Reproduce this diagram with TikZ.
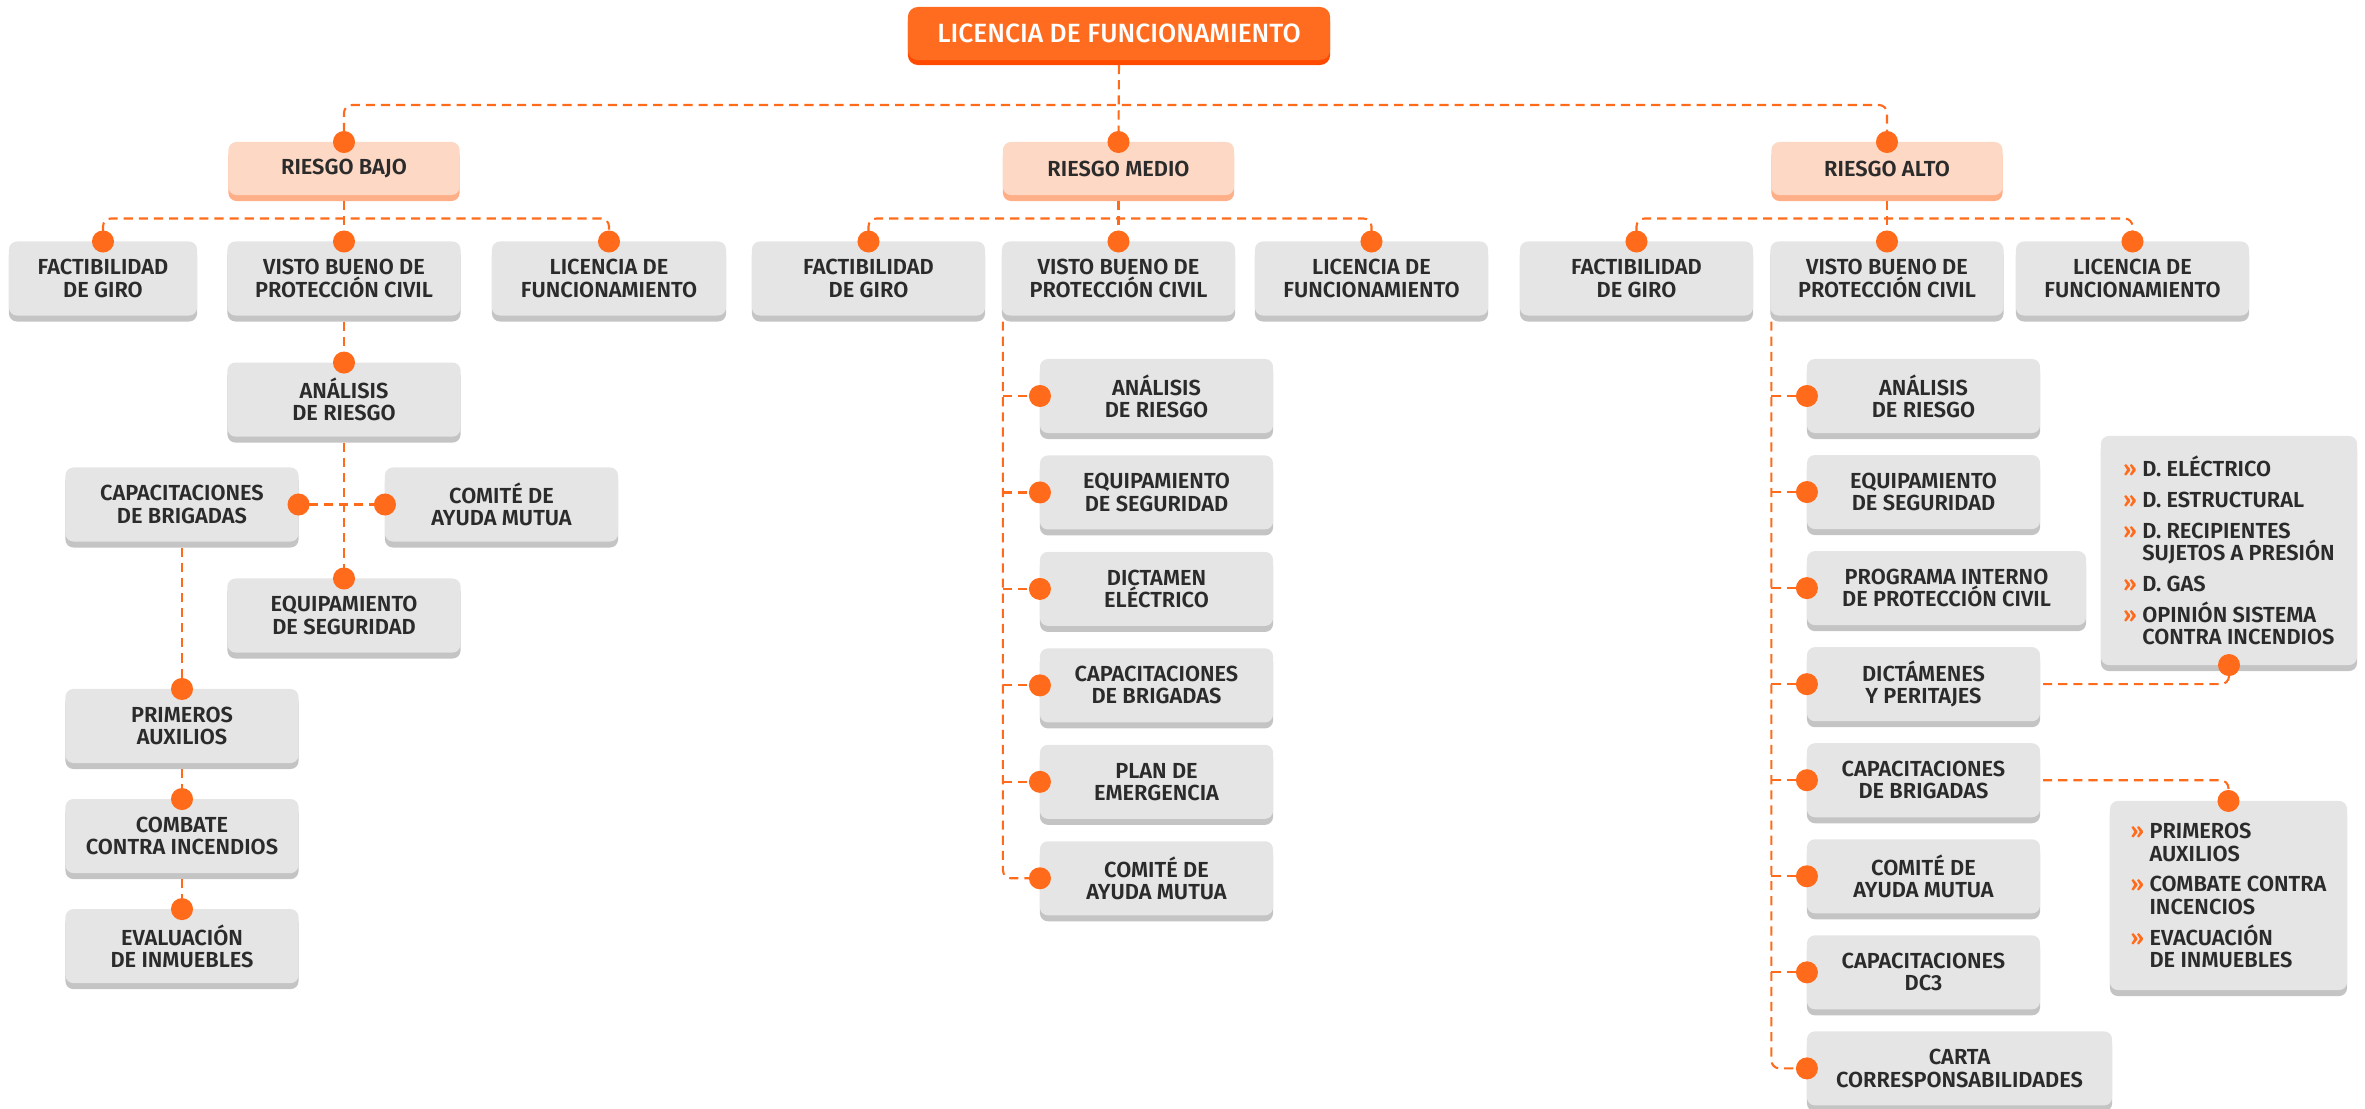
\documentclass[tikz,border=0pt]{standalone}
\usepackage{fontspec}
\setmainfont{Fira Sans}
\newfontfamily\cardfont{Fira Sans SemiBold}
\newfontfamily\headfont{Fira Sans Medium}
\usetikzlibrary{arrows.meta,positioning,shadows}

\definecolor{headorange}{HTML}{FF6C1F}
\definecolor{headshade}{HTML}{FF4A00}
\definecolor{peach}{HTML}{FDD8C4}
\definecolor{peachshade}{HTML}{FFAF87}
\definecolor{boxgray}{HTML}{E5E5E5}
\definecolor{boxshade}{HTML}{C4C4C4}
\definecolor{ink}{HTML}{2B2B2B}
\definecolor{dotorange}{HTML}{FF6B1A}

\newcommand{\bul}{\makebox[0.19cm][l]{\textcolor{dotorange}{»}}}
\newcommand{\cont}{\hspace*{0.19cm}}

\begin{document}
\begin{tikzpicture}[x=0.01cm,y=-0.01cm,>=Latex,
  font=\cardfont\fontsize{6.2pt}{6.3pt}\selectfont,
  card/.style={rounded corners=0.08cm,align=center,inner sep=0pt,outer sep=0pt,text=ink},
  box/.style={card,fill=boxgray,minimum width=2.33cm,minimum height=0.74cm,general shadow={fill=boxshade,shadow yshift=-0.06cm}},
  level/.style={card,fill=peach,minimum width=2.31cm,minimum height=0.53cm,general shadow={fill=peachshade,shadow yshift=-0.06cm}},
  head/.style={card,fill=headorange,text=white,font=\headfont\fontsize{7.5pt}{8pt}\selectfont,minimum width=4.22cm,minimum height=0.53cm,rounded corners=0.1cm,general shadow={fill=headshade,shadow yshift=-0.05cm}},
  lst/.style={box,align=left},
  link/.style={draw=dotorange,line width=0.6pt,dash pattern=on 2.6pt off 1.7pt,rounded corners=0.08cm},
  dot/.style={-{Circle[length=0.22cm,width=0.22cm]},shorten >=-0.11cm},
  dots/.style={{Circle[length=0.22cm,width=0.22cm]}-{Circle[length=0.22cm,width=0.22cm]},shorten >=-0.11cm,shorten <=-0.11cm}]
\useasboundingbox (0,0) rectangle (2365,1109);

% top and risk levels
\node[head] (title) at (1119,33.5) {LICENCIA DE FUNCIONAMIENTO};
\node[level] (rB) at (344,168.5) {RIESGO BAJO};
\node[level] (rM) at (1118.5,168.5) {RIESGO MEDIO};
\node[level] (rA) at (1887,168.5) {RIESGO ALTO};

% second row
\node[box,minimum width=1.88cm] (factB) at (103,278.5) {FACTIBILIDAD\\DE GIRO};
\node[box] (vistoB) at (344,278.5) {VISTO BUENO DE\\PROTECCIÓN CIVIL};
\node[box,minimum width=2.34cm] (licB) at (609,278.5) {LICENCIA DE\\FUNCIONAMIENTO};
\node[box] (factM) at (868.5,278.5) {FACTIBILIDAD\\DE GIRO};
\node[box] (vistoM) at (1118.5,278.5) {VISTO BUENO DE\\PROTECCIÓN CIVIL};
\node[box] (licM) at (1371.5,278.5) {LICENCIA DE\\FUNCIONAMIENTO};
\node[box] (factA) at (1636.5,278.5) {FACTIBILIDAD\\DE GIRO};
\node[box] (vistoA) at (1887,278.5) {VISTO BUENO DE\\PROTECCIÓN CIVIL};
\node[box] (licA) at (2132.5,278.5) {LICENCIA DE\\FUNCIONAMIENTO};

% riesgo bajo
\node[box,below=0.47cm of vistoB] (analB) {ANÁLISIS\\DE RIESGO};
\node[box] (capB) at (182,504.5) {CAPACITACIONES\\DE BRIGADAS};
\node[box] (comB) at (501.5,504.5) {COMITÉ DE\\AYUDA MUTUA};
\node[box] (equipB) at (344,615.5) {EQUIPAMIENTO\\DE SEGURIDAD};
\node[box] (primB) at (182,726) {PRIMEROS\\AUXILIOS};
\node[box,below=0.36cm of primB] (combB) {COMBATE\\CONTRA INCENDIOS};
\node[box,below=0.36cm of combB] (evalB) {EVALUACIÓN\\DE INMUEBLES};

% riesgo medio
\node[box] (analM) at (1156.5,396) {ANÁLISIS\\DE RIESGO};
\node[box,below=0.224cm of analM] (equipM) {EQUIPAMIENTO\\DE SEGURIDAD};
\node[box,below=0.224cm of equipM] (dictM) {DICTAMEN\\ELÉCTRICO};
\node[box,below=0.224cm of dictM] (capM) {CAPACITACIONES\\DE BRIGADAS};
\node[box,below=0.224cm of capM] (planM) {PLAN DE\\EMERGENCIA};
\node[box,below=0.224cm of planM] (comM) {COMITÉ DE\\AYUDA MUTUA};

% riesgo alto
\node[box] (analA) at (1923.5,396) {ANÁLISIS\\DE RIESGO};
\node[box,below right=0.22cm and 0cm of analA.south west] (equipA) {EQUIPAMIENTO\\DE SEGURIDAD};
\node[box,minimum width=2.79cm,below right=0.22cm and 0cm of equipA.south west] (progA) {PROGRAMA INTERNO\\DE PROTECCIÓN CIVIL};
\node[box,below right=0.22cm and 0cm of progA.south west] (dictA) {DICTÁMENES\\Y PERITAJES};
\node[box,below right=0.22cm and 0cm of dictA.south west] (capA) {CAPACITACIONES\\DE BRIGADAS};
\node[box,below right=0.22cm and 0cm of capA.south west] (comA) {COMITÉ DE\\AYUDA MUTUA};
\node[box,below right=0.22cm and 0cm of comA.south west] (dcA) {CAPACITACIONES\\DC3};
\node[box,minimum width=3.05cm,below right=0.22cm and 0cm of dcA.south west] (cartaA) {CARTA\\CORRESPONSABILIDADES};

% detail lists
\node[lst,minimum width=2.56cm,minimum height=2.29cm] (lstD) at (2229,550.5)
  {\bul D. ELÉCTRICO\\[2.5pt]\bul D. ESTRUCTURAL\\[2.5pt]\bul D. RECIPIENTES\\\cont SUJETOS A PRESIÓN\\[2.5pt]\bul D. GAS\\[2.5pt]\bul OPINIÓN SISTEMA\\\cont CONTRA INCENDIOS};
\node[lst,minimum width=2.37cm,minimum height=1.89cm] (lstC) at (2228.5,895.5)
  {\bul PRIMEROS\\\cont AUXILIOS\\[2.5pt]\bul COMBATE CONTRA\\\cont INCENCIOS\\[2.5pt]\bul EVACUACIÓN\\\cont DE INMUEBLES};

% connectors
\draw[link,dot,shorten <=0.05cm] (title.south) -- (rM.north);
\draw[link,dots] (rB.north) -- ++(0,-37) -| (rA.north);
\draw[link,dot,shorten <=0.06cm] (rB.south) -- (vistoB.north);
\draw[link,dot,shorten <=0.06cm] (rM.south) -- (vistoM.north);
\draw[link,dot,shorten <=0.06cm] (rA.south) -- (vistoA.north);
\draw[link,dots] (factB.north) -- ++(0,-23) -| (licB.north);
\draw[link,dots] (factM.north) -- ++(0,-23) -| (licM.north);
\draw[link,dots] (factA.north) -- ++(0,-23) -| (licA.north);

\draw[link,dot,shorten <=0.06cm] (vistoB.south) -- (analB.north);
\draw[link,dot,shorten <=0.06cm] (analB.south) -- (equipB.north);
\draw[link,dots] (capB.east) -- (comB.west);
\draw[link,dot,shorten <=0.06cm] (capB.south) -- (primB.north);
\draw[link,dot,shorten <=0.06cm] (primB.south) -- (combB.north);
\draw[link,dot,shorten <=0.06cm] (combB.south) -- (evalB.north);

\coordinate (trunkM) at ([xshift=0.01cm,yshift=-0.06cm]vistoM.south west);
\draw[link,dot] (trunkM) |- (comM.west);
\draw[link,dot] (analM.west -| trunkM) -- (analM.west);
\draw[link,dot] (equipM.west -| trunkM) -- (equipM.west);
\draw[link,dot] (dictM.west -| trunkM) -- (dictM.west);
\draw[link,dot] (capM.west -| trunkM) -- (capM.west);
\draw[link,dot] (planM.west -| trunkM) -- (planM.west);

\coordinate (trunkA) at ([xshift=0.01cm,yshift=-0.06cm]vistoA.south west);
\draw[link,dot] (trunkA) |- (cartaA.west);
\draw[link,dot] (analA.west -| trunkA) -- (analA.west);
\draw[link,dot] (equipA.west -| trunkA) -- (equipA.west);
\draw[link,dot] (progA.west -| trunkA) -- (progA.west);
\draw[link,dot] (dictA.west -| trunkA) -- (dictA.west);
\draw[link,dot] (capA.west -| trunkA) -- (capA.west);
\draw[link,dot] (comA.west -| trunkA) -- (comA.west);
\draw[link,dot] (dcA.west -| trunkA) -- (dcA.west);

\draw[link,dot,shorten <=0.03cm] (dictA.east) -| (lstD.south);
\draw[link,dot,shorten <=0.03cm] (capA.east) -| (lstC.north);
\end{tikzpicture}
\end{document}
